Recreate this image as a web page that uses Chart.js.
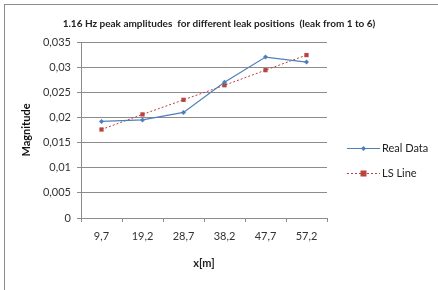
<!DOCTYPE html>
<html>
<head>
<meta charset="utf-8">
<script src="https://cdn.jsdelivr.net/npm/chart.js@4"></script>
<style>
  html, body { margin:0; padding:0; background:#fff; }
  #wrap { position:relative; width:438px; height:290px; overflow:hidden; }
  #frame { position:absolute; left:4px; top:4px; width:460px; height:310px; border-left:1px solid #8c8c8c; border-top:1px solid #8c8c8c; }
  canvas { position:absolute; left:0; top:0; }
</style>
</head>
<body>
<div id="wrap">
  <div id="frame"></div>
  <canvas id="c" width="438" height="290"></canvas>
</div>
<script>
// ---------- Data ----------
const positions = ['9,7', '19,2', '28,7', '38,2', '47,7', '57,2'];
const realData  = [0.0192, 0.0195, 0.0210, 0.0270, 0.0320, 0.0310];
const lsLine    = [0.0176, 0.0206, 0.0235, 0.0264, 0.0294, 0.0324];
const yTicks    = [0, 0.005, 0.01, 0.015, 0.02, 0.025, 0.03, 0.035];

const FONT = 'Lato, "Open Sans", sans-serif';
const cBlue = '#4f7fbb';
const cRed  = '#b8433f';

function fmtTick(v){ return String(+v.toFixed(3)).replace('.', ','); }

// legend at the right, Excel style (line + marker)
const sideLegend = {
  id: 'sideLegend',
  afterDraw(chart){
    const ctx = chart.ctx;
    const rows = [148, 173];
    chart.data.datasets.forEach((ds, i) => {
      const y = rows[i] + 0.5, x0 = 347, x1 = 380;
      ctx.save();
      ctx.strokeStyle = ds.borderColor;
      ctx.lineWidth = 1;
      ctx.setLineDash(ds.borderDash || []);
      ctx.beginPath(); ctx.moveTo(x0, y); ctx.lineTo(x1, y); ctx.stroke();
      ctx.setLineDash([]);
      ctx.fillStyle = ds.pointBackgroundColor;
      const cx = (x0 + x1) / 2, r = ds.pointRadius;
      if (ds.pointStyle === 'rect') ctx.fillRect(cx - r, y - r, r * 2, r * 2);
      else { ctx.beginPath(); ctx.moveTo(cx, y - r); ctx.lineTo(cx + r, y); ctx.lineTo(cx, y + r); ctx.lineTo(cx - r, y); ctx.closePath(); ctx.fill(); }
      ctx.fillStyle = '#222';
      ctx.font = '11px ' + FONT;
      ctx.textBaseline = 'middle';
      ctx.fillText(ds.label, x1 + 2, y);
      ctx.restore();
    });
  }
};

new Chart(document.getElementById('c'), {
  type: 'line',
  data: {
    labels: positions,
    datasets: [{
      label: 'Real Data',
      data: realData,
      borderColor: cBlue,
      backgroundColor: cBlue,
      pointBackgroundColor: cBlue,
      pointBorderWidth: 0,
      borderWidth: 1.2,
      pointStyle: 'rectRot',
      pointRadius: 2.5,
      tension: 0
    }, {
      label: 'LS Line',
      data: lsLine,
      borderColor: cRed,
      backgroundColor: cRed,
      pointBackgroundColor: cRed,
      pointBorderWidth: 0,
      borderWidth: 1,
      borderDash: [2, 2],
      pointStyle: 'rect',
      pointRadius: 3,
      tension: 0
    }]
  },
  options: {
    responsive: false,
    animation: false,
    layout: { padding: { left: 0, right: 0, top: 0, bottom: 16 } },
    plugins: {
      legend: { display: false },
      tooltip: { enabled: false },
      title: {
        display: true,
        text: '1.16 Hz peak amplitudes  for different leak positions  (leak from 1 to 6)',
        font: { family: FONT, size: 10, weight: 'bold' },
        color: '#222',
        padding: { top: 18, bottom: 12 }
      }
    },
    scales: {
      x: {
        offset: true,
        grid: { display: true, drawOnChartArea: false, offset: true, color: '#8c8c8c', tickLength: 4, tickColor: '#8c8c8c' },
        border: { color: '#8c8c8c' },
        ticks: { color: '#333', font: { family: FONT, size: 11 }, padding: 8, maxRotation: 0 },
        title: { display: true, text: 'x[m]', color: '#222', font: { family: FONT, size: 11, weight: 'bold' }, padding: { top: 4 } },
        afterFit(s){ s.height = 56; }
      },
      y: {
        min: 0, max: 0.035,
        afterBuildTicks(s){ s.ticks = yTicks.map(v => ({ value: v })); },
        grid: { color: '#8c8c8c', tickLength: 4, tickColor: '#8c8c8c' },
        border: { color: '#8c8c8c' },
        ticks: { color: '#333', font: { family: FONT, size: 11 }, padding: 6, callback: v => fmtTick(v) },
        title: { display: true, text: 'Magnitude', color: '#111', font: { family: FONT, size: 11, weight: 'bold' }, padding: { top: 20, bottom: 4 } },
        afterFit(s){ s.width = 81; }
      },
      // empty right-hand box that keeps room for the legend
      yRight: {
        position: 'right',
        min: 0, max: 0.035,
        grid: { display: false },
        border: { display: false },
        ticks: { display: false },
        afterFit(s){ s.width = 111; }
      }
    }
  },
  plugins: [sideLegend]
});
</script>
</body>
</html>
